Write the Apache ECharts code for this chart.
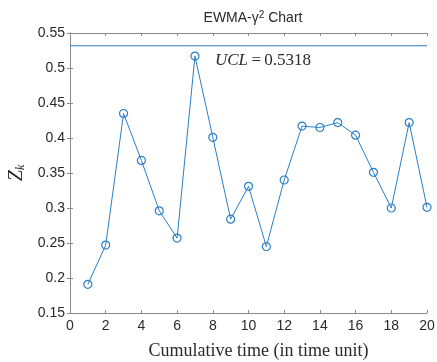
<!DOCTYPE html>
<html>
<head>
<meta charset="utf-8">
<script src="https://cdn.jsdelivr.net/npm/echarts@6/dist/echarts.min.js"></script>
<style>
  html, body { margin: 0; padding: 0; background: #fff; }
  #chart { width: 437px; height: 362px; }
</style>
</head>
<body>
<div id="chart"></div>
<script>
  // data
  var timePoints = [1, 2, 3, 4, 5, 6, 7, 8, 9, 10, 11, 12, 13, 14, 15, 16, 17, 18, 19, 20];
  var zValues = [0.191, 0.247, 0.435, 0.368, 0.296, 0.257, 0.517, 0.401, 0.284, 0.331,
                 0.245, 0.340, 0.417, 0.415, 0.422, 0.404, 0.351, 0.300, 0.422, 0.301];
  var ucl = 0.5318;
  var ucl_x = [0, 20];

  var blue = '#2a7fc4';
  var axisGray = '#8a8a8a';
  var labelColor = '#2a2a2a';

  var myChart = echarts.init(document.getElementById('chart'));

  var option = {
    animation: false,
    backgroundColor: '#fff',
    title: {
      text: 'EWMA-γ{sup|2} Chart',
      left: 248,
      textAlign: 'center',
      top: 5,
      textStyle: {
        fontFamily: 'Liberation Sans',
        fontSize: 14,
        fontWeight: 'normal',
        color: labelColor,
        rich: {
          sup: { fontSize: 10, verticalAlign: 'top', padding: [0, 0, 6, 0], fontFamily: 'Liberation Sans', color: labelColor }
        }
      }
    },
    grid: { left: 70, right: 10, top: 33, bottom: 49, outerBoundsMode: 'none', containLabel: false },
    xAxis: [{
      type: 'value',
      min: 0,
      max: 20,
      interval: 2,
      name: 'Cumulative time (in time unit)',
      nameLocation: 'middle',
      nameGap: 29,
      nameTextStyle: { fontFamily: 'Liberation Serif', fontSize: 18, color: labelColor, padding: [0, 0, 0, 20] },
      axisLine: { show: true, lineStyle: { color: axisGray } },
      axisTick: { inside: true, length: 3, lineStyle: { color: axisGray } },
      axisLabel: { fontFamily: 'Liberation Sans', fontSize: 14, color: labelColor, margin: 6 },
      splitLine: { show: false }
    }, {
      type: 'value',
      position: 'top',
      min: 0,
      max: 20,
      interval: 2,
      axisLine: { show: true, lineStyle: { color: axisGray } },
      axisTick: { inside: true, length: 3, lineStyle: { color: axisGray } },
      axisLabel: { show: false },
      splitLine: { show: false }
    }],
    yAxis: [{
      type: 'value',
      min: 0.15,
      max: 0.55,
      interval: 0.05,
      name: '{z|Z}{k|k}',
      nameLocation: 'middle',
      nameRotate: 90,
      nameGap: 35,
      nameTextStyle: {
        rich: {
          z: { fontFamily: 'Liberation Serif', fontStyle: 'italic', fontSize: 20, color: labelColor },
          k: { fontFamily: 'Liberation Serif', fontStyle: 'italic', fontSize: 12, color: labelColor, padding: [8, 0, 0, 0] }
        }
      },
      axisLine: { show: true, lineStyle: { color: axisGray } },
      axisTick: { inside: true, length: 3, lineStyle: { color: axisGray } },
      axisLabel: {
        fontFamily: 'Liberation Sans', fontSize: 14, color: labelColor, margin: 5,
        formatter: function (v) { return String(parseFloat(v.toFixed(2))); }
      },
      splitLine: { show: false }
    }, {
      type: 'value',
      position: 'right',
      min: 0.15,
      max: 0.55,
      interval: 0.05,
      axisLine: { show: true, lineStyle: { color: axisGray } },
      axisTick: { inside: true, length: 3, lineStyle: { color: axisGray } },
      axisLabel: { show: false },
      splitLine: { show: false }
    }],
    series: [{
      name: 'Zk',
      type: 'line',
      data: timePoints.map(function (t, i) { return [t, zValues[i]]; }),
      symbol: 'circle',
      symbolSize: 8,
      color: blue,
      lineStyle: { color: blue, width: 1 },
      itemStyle: { color: 'rgba(0,0,0,0)', borderColor: blue, borderWidth: 1.2 },
      z: 3
    }, {
      name: 'UCL',
      type: 'line',
      data: ucl_x.map(function (t) { return [t, ucl]; }),
      symbol: 'none',
      color: blue,
      itemStyle: { color: blue },
      lineStyle: { color: blue, width: 1.2 },
      z: 3
    }],
    graphic: [{
      type: 'text',
      left: 215,
      top: 52,
      style: {
        text: '{i|UCL} {n|=} {n|0.5318}',
        rich: {
          i: { fontFamily: 'Liberation Serif', fontStyle: 'italic', fontSize: 17, fill: labelColor },
          n: { fontFamily: 'Liberation Serif', fontSize: 17, fill: labelColor }
        }
      }
    }]
  };

  myChart.setOption(option);
</script>
</body>
</html>
